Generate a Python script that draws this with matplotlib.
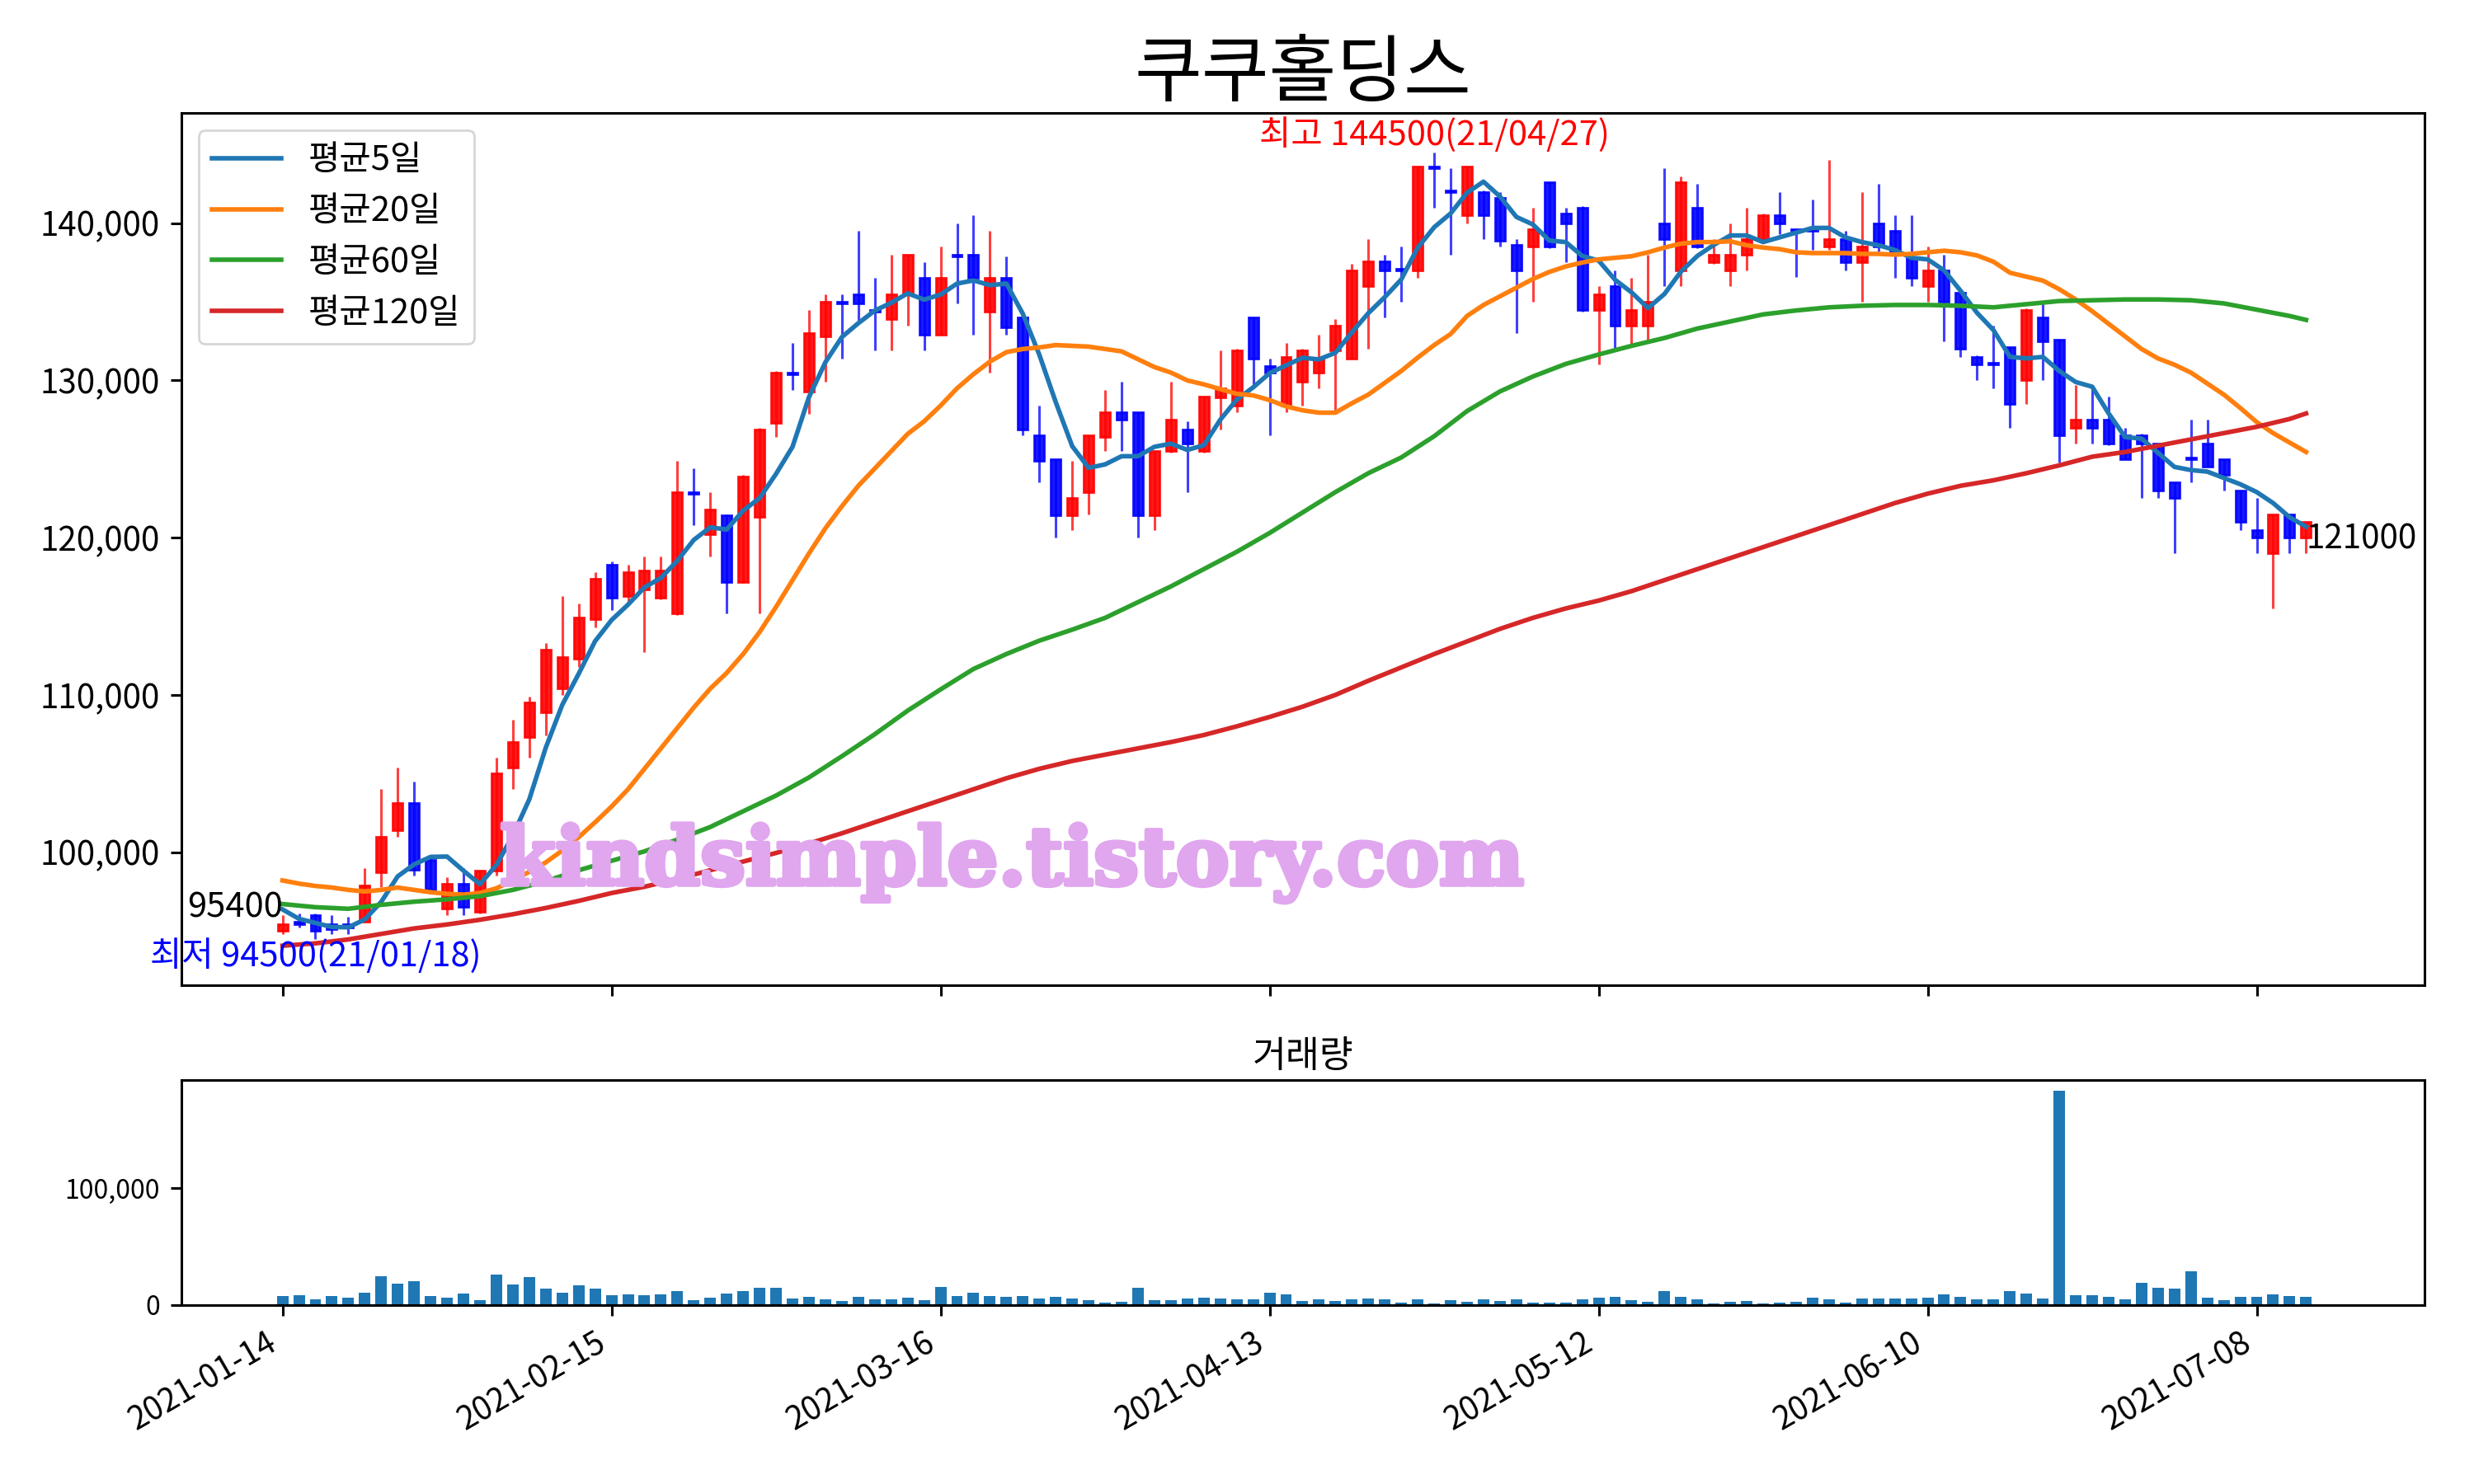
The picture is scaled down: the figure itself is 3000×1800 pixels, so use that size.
import matplotlib
matplotlib.use('Agg')
import matplotlib.pyplot as plt
import matplotlib.patheffects as pe
from matplotlib.ticker import FuncFormatter, MultipleLocator
import numpy as np
import pandas as pd

plt.rcParams['font.family'] = ['Noto Sans CJK KR', 'DejaVu Sans']
plt.rcParams['axes.unicode_minus'] = False
plt.rcParams['axes.linewidth'] = 1.1
for k in ('xtick', 'ytick'):
    plt.rcParams[f'{k}.major.size'] = 4.7
    plt.rcParams[f'{k}.major.width'] = 1.1
    plt.rcParams[f'{k}.major.pad'] = 4.7

# 일별 시세 (2021-01-14 ~ 2021-07-13)
open_ = [95000, 95600, 96000, 95400, 95400, 95600, 98700, 101400, 103100, 99500,
         96400, 98000, 96200, 98800, 105400, 107300, 108900, 110400, 112300, 114800,
         118300, 116300, 116700, 116200, 115200, 122900, 120200, 121400, 117200, 121300,
         127300, 130500, 129300, 132800, 135000, 135500, 134500, 133900, 135500, 136500,
         132900, 138000, 138000, 134400, 136500, 134000, 126500, 125000, 121400, 122900,
         126400, 128000, 128000, 121400, 125500, 126900, 125500, 128900, 128400, 134000,
         130900, 128400, 129900, 130500, 131900, 131400, 136000, 137600, 137100, 137000,
         143600, 142100, 140500, 142000, 141600, 138600, 138500, 142600, 140600, 141000,
         134500, 136000, 133500, 133500, 140000, 137000, 141000, 137500, 137000, 138000,
         139000, 140500, 139600, 139600, 138500, 139000, 137500, 140000, 139500, 137800,
         136000, 137000, 135600, 131500, 131100, 132100, 130000, 134000, 132600, 127000,
         127500, 127500, 126500, 126500, 126000, 123500, 125100, 126000, 125000, 123000,
         120500, 119000, 121500, 120000]
high = [96000, 96100, 96100, 96000, 95900, 99000, 104000, 105400, 104500, 99700,
        98400, 99000, 98800, 106000, 108400, 109900, 113300, 116300, 115800, 117800,
        118500, 118300, 118800, 118800, 124900, 124400, 122900, 121500, 124000, 127000,
        130600, 132400, 134500, 135500, 135500, 139500, 136500, 138000, 138000, 137500,
        138500, 140000, 140500, 139500, 137900, 134000, 128400, 125000, 124900, 126500,
        129400, 129900, 128000, 125500, 129900, 127400, 129000, 131900, 132000, 134000,
        131400, 132400, 132000, 132900, 133900, 137400, 139000, 138000, 138500, 143600,
        144500, 143500, 143600, 142100, 142000, 139000, 141000, 142600, 141000, 141100,
        136000, 137000, 136500, 138000, 143500, 143000, 142500, 139000, 140000, 141000,
        140600, 142000, 139600, 141500, 144000, 139500, 142000, 142500, 140500, 140500,
        138500, 138000, 135600, 131600, 133500, 132100, 134600, 134900, 132600, 129700,
        129500, 129000, 127000, 126600, 126000, 123500, 127500, 127500, 125000, 123000,
        122500, 121500, 121500, 121000]
low = [94800, 95200, 94500, 94800, 94800, 95600, 97800, 101000, 98500, 97500,
       96000, 96000, 96100, 98500, 104000, 106000, 107400, 110000, 111800, 114300,
       115400, 115800, 112700, 116100, 115100, 120800, 118800, 115200, 117100, 115200,
       126400, 129400, 127900, 129900, 131400, 133800, 131900, 131900, 133500, 131900,
       132900, 134900, 132900, 130500, 132900, 126500, 123500, 120000, 120500, 121500,
       125500, 125500, 120000, 120500, 125400, 122900, 125400, 126900, 128000, 129500,
       126500, 128000, 128400, 129500, 128100, 131400, 132000, 134000, 135000, 136500,
       141000, 138000, 140000, 139000, 138500, 133000, 135000, 138400, 137500, 134400,
       131000, 132000, 132300, 132600, 136000, 136000, 138400, 137400, 136000, 137000,
       138800, 139300, 136600, 138300, 138300, 137000, 135000, 138200, 136500, 136000,
       135000, 132500, 131500, 130000, 129500, 127000, 128500, 130000, 124800, 126000,
       126000, 125900, 125000, 122500, 122500, 119000, 123500, 124500, 123000, 120500,
       119000, 115500, 119000, 119000]
close = [95400, 95400, 95000, 95100, 95200, 97900, 101000, 103100, 98900, 97600,
         98000, 96500, 98800, 105000, 107000, 109500, 112900, 112400, 114900, 117400,
         116200, 117800, 117900, 117900, 122900, 122800, 121800, 117200, 123900, 126900,
         130500, 130400, 133000, 135000, 134900, 134900, 134400, 135500, 138000, 132900,
         136500, 137900, 136500, 136500, 133400, 126900, 124900, 121400, 122500, 126500,
         128000, 127500, 121400, 125500, 127500, 126000, 129000, 129500, 131900, 131400,
         130500, 131500, 131900, 131400, 133500, 137000, 137600, 137000, 137000, 143600,
         143500, 142000, 143600, 140500, 138900, 137000, 139600, 138500, 140000, 134500,
         135500, 133500, 134500, 135000, 139000, 142600, 138500, 138000, 138000, 139000,
         140500, 140000, 139500, 139500, 139000, 137500, 138500, 138500, 138000, 136500,
         137000, 135000, 132000, 131000, 131000, 128500, 134500, 132500, 126500, 127500,
         127000, 126000, 125000, 126000, 123000, 122500, 125000, 124500, 124000, 121000,
         120000, 121500, 120000, 121000]
volume = [7500, 8200, 4700, 7500, 6100, 10300, 24400, 18100, 20200, 7500,
          6100, 9600, 4000, 25800, 17400, 23700, 13800, 10300, 16700, 13800,
          8200, 8900, 8200, 8900, 11700, 4000, 6100, 9600, 11700, 14600,
          14600, 5400, 6800, 4700, 3300, 6800, 4700, 4700, 6100, 4000,
          15300, 7500, 10300, 7500, 6800, 7500, 5400, 6800, 5400, 4000,
          1900, 2600, 14600, 4000, 4000, 5400, 6100, 5400, 4700, 4700,
          10300, 8900, 3200, 5200, 3800, 5200, 5900, 5200, 2300, 5200,
          1600, 4500, 3100, 5200, 3800, 5200, 2300, 2300, 2300, 5200,
          6600, 7300, 4500, 3100, 12200, 7300, 5200, 1600, 3100, 3800,
          1600, 2300, 3100, 6600, 5200, 2300, 5900, 5900, 5900, 5900,
          6600, 9400, 7300, 5200, 5200, 12200, 10100, 5900, 183000, 8700,
          8700, 7300, 5200, 19200, 15000, 14300, 29100, 6600, 4500, 7300,
          7300, 9400, 8000, 7300]

# 1/14 이전 4거래일 종가 (5일 평균 계산용)
prev_close = [98400, 96300, 96400, 95300]

# 20일 이동평균
ma20 = [98200, 98000, 97850, 97750, 97600, 97500, 97600, 97750, 97600, 97450,
        97350, 97300, 97400, 97700, 98200, 98750, 99350, 100100, 100950, 101900,
        102900, 104000, 105300, 106600, 107900, 109200, 110400, 111400, 112600, 114000,
        115600, 117300, 119000, 120600, 122000, 123300, 124400, 125500, 126600, 127400,
        128400, 129500, 130400, 131200, 131800, 132000, 132100, 132250, 132200, 132150,
        132000, 131850, 131350, 130850, 130500, 130000, 129750, 129450, 129150, 129050,
        128750, 128350, 128100, 127950, 127950, 128550, 129100, 129850, 130600, 131450,
        132250, 132950, 134100, 134800, 135350, 135900, 136450, 136900, 137250, 137500,
        137700, 137800, 137900, 138150, 138450, 138700, 138800, 138800, 138850, 138600,
        138450, 138350, 138150, 138100, 138100, 138100, 138050, 138050, 138000, 138050,
        138150, 138250, 138150, 137950, 137550, 136850, 136600, 136350, 135800, 135150,
        134400, 133600, 132800, 132000, 131400, 131000, 130500, 129800, 129100, 128250,
        127350, 126650, 126050, 125450]

# 60일 / 120일 이동평균 (2거래일 간격으로 읽은 값)
ma_idx = list(range(0, 124, 2)) + [123]
ma60 = [96700, 96500, 96400, 96650, 96850, 97000, 97200, 97600, 98150, 98850,
        99450, 100050, 100800, 101600, 102600, 103600, 104750, 106100, 107500, 109000,
        110350, 111650, 112600, 113450, 114150, 114900, 115900, 116900, 118000, 119100,
        120300, 121600, 122900, 124100, 125100, 126450, 128050, 129300, 130250, 131050,
        131650, 132200, 132700, 133300, 133750, 134200, 134450, 134650, 134750, 134800,
        134800, 134750, 134650, 134850, 135050, 135100, 135150, 135150, 135100, 134900,
        134500, 134100, 133850]
ma120 = [94050, 94200, 94450, 94800, 95150, 95400, 95700, 96050, 96450, 96900,
         97400, 97800, 98300, 98850, 99400, 99950, 100550, 101200, 101900, 102600,
         103300, 104000, 104700, 105300, 105800, 106200, 106600, 107000, 107450, 108000,
         108600, 109250, 110000, 110900, 111750, 112600, 113400, 114200, 114900, 115500,
         116000, 116600, 117300, 118000, 118700, 119400, 120100, 120800, 121500, 122200,
         122800, 123300, 123650, 124100, 124600, 125150, 125450, 125850, 126250, 126650,
         127050, 127550, 127900]

tick_idx = [0, 20, 40, 60, 80, 100, 120]
tick_labels = ['2021-01-14', '2021-02-15', '2021-03-16', '2021-04-13',
               '2021-05-12', '2021-06-10', '2021-07-08']

x = np.arange(len(close))
o = np.array(open_)
c = np.array(close)
ma5 = pd.Series(prev_close + close).rolling(5).mean().values[len(prev_close):]

fig = plt.figure(figsize=(15, 9), dpi=200)
ax = fig.add_axes([0.0733, 0.336, 0.9067, 0.588])
ax2 = fig.add_axes([0.0733, 0.1206, 0.9067, 0.1515], sharex=ax)

# 캔들
colors = np.where(c >= o, 'red', 'blue')
ax.vlines(x, low, high, colors=colors, linewidth=1.1, alpha=0.75)
ax.bar(x, np.abs(c - o), bottom=np.minimum(o, c), width=0.6,
       color=colors, edgecolor=colors, linewidth=1, alpha=0.9)

ax.plot(x, ma5, color='C0', linewidth=2, label='평균5일')
ax.plot(x, ma20, color='C1', linewidth=2, label='평균20일')
ax.plot(ma_idx, ma60, color='C2', linewidth=2, label='평균60일')
ax.plot(ma_idx, ma120, color='C3', linewidth=2, label='평균120일')

ax.set_title('쿠쿠홀딩스', fontsize=32)
ax.legend(loc='upper left', fontsize=15)
ax.set_xlim(-6.15, 130.2)
ax.yaxis.set_major_locator(MultipleLocator(10000))
ax.yaxis.set_major_formatter(FuncFormatter(lambda v, p: f'{v:,.0f}'))
ax.tick_params(axis='y', labelsize=14.5)
ax.tick_params(axis='x', labelbottom=False)

# 최고 / 최저 / 시작 / 마지막
hi_i = int(np.argmax(high))
lo_i = int(np.argmin(low))
ax.text(hi_i, high[hi_i], f'최고 {high[hi_i]}(21/04/27)', color='red',
        fontsize=15, ha='center', va='bottom')
ax.text(lo_i, low[lo_i], f'최저 {low[lo_i]}(21/01/18)', color='blue',
        fontsize=15, ha='center', va='top')
ax.text(x[0], close[0], f'{close[0]}', fontsize=15, ha='right', va='bottom')
ax.text(x[-1], close[-1], f'{close[-1]}', fontsize=14.5, ha='left', va='top')

ax.text(0.3705, 0.14, 'kindsimple.tistory.com', transform=ax.transAxes,
        fontsize=35, fontweight='bold', family='DejaVu Serif',
        color='#e0a6ee', ha='center', va='center', zorder=10,
        path_effects=[pe.withStroke(linewidth=2, foreground='#e0a6ee')])

# 거래량
ax2.bar(x, volume, width=0.7, color='C0')
ax2.set_title('거래량', fontsize=16)
ax2.yaxis.set_major_locator(MultipleLocator(100000))
ax2.yaxis.set_major_formatter(FuncFormatter(lambda v, p: f'{v:,.0f}'))
ax2.tick_params(axis='y', labelsize=11.5)
ax2.set_xticks(tick_idx)
ax2.set_xticklabels(tick_labels, rotation=30, ha='right', fontsize=14)

fig.savefig('out.png', dpi=200)
